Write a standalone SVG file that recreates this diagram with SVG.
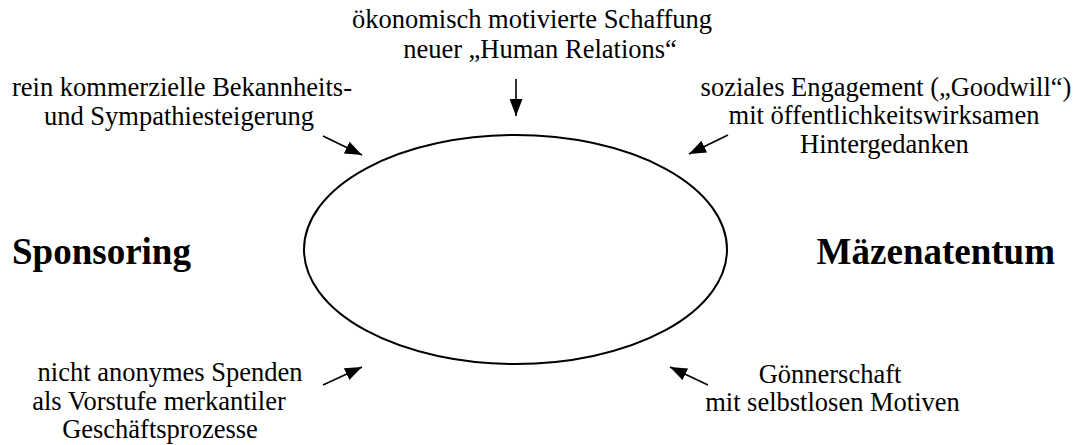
<svg xmlns="http://www.w3.org/2000/svg" width="1073" height="445" viewBox="0 0 1073 445">
<style>
text{font-family:"Liberation Serif","Times New Roman",serif;fill:#000}
.t{font-size:26.5px;text-anchor:middle}
.b{font-size:37px;font-weight:bold}
.c line{stroke:#000;stroke-width:1.6;marker-end:url(#ah)}
</style>
<defs>
<marker id="ah" viewBox="0 0 10 10" refX="10" refY="5" markerWidth="17" markerHeight="13" markerUnits="userSpaceOnUse" orient="auto" preserveAspectRatio="none">
<path d="M0,0 L10,5 L0,10 Z" fill="#000"/>
</marker>
</defs>
<rect width="1073" height="445" fill="#fff"/>
<g id="ellipse">
<ellipse cx="515.5" cy="249.5" rx="211.5" ry="114.5" fill="none" stroke="#000" stroke-width="2"/>
</g>
<g id="sponsoring"><text class="b" x="12" y="264">Sponsoring</text></g>
<g id="maezenatentum"><text class="b" x="1055" y="264" text-anchor="end">Mäzenatentum</text></g>
<g id="top"><text class="t" x="532" y="28">ökonomisch motivierte Schaffung</text><text class="t" x="540" y="58">neuer „Human Relations“</text></g>
<g id="topleft"><text class="t" x="182" y="96">rein kommerzielle Bekannheits-</text><text class="t" x="179" y="124.5">und Sympathiesteigerung</text></g>
<g id="topright"><text class="t" x="886" y="95.5">soziales Engagement („Goodwill“)</text><text class="t" x="884" y="124">mit öffentlichkeitswirksamen</text><text class="t" x="884.5" y="152.5">Hintergedanken</text></g>
<g id="bottomleft"><text class="t" x="170" y="381">nicht anonymes Spenden</text><text class="t" x="159" y="409.5">als Vorstufe merkantiler</text><text class="t" x="160" y="438">Geschäftsprozesse</text></g>
<g id="bottomright"><text class="t" x="830" y="382.5">Gönnerschaft</text><text class="t" x="832.5" y="411">mit selbstlosen Motiven</text></g>
<g id="connectors" class="c">
<line x1="516" y1="79" x2="516" y2="116"/>
<line x1="323" y1="136" x2="362" y2="155"/>
<line x1="728" y1="135" x2="689" y2="154"/>
<line x1="323" y1="385" x2="362" y2="367"/>
<line x1="708" y1="385" x2="670" y2="367"/>
</g>
</svg>
